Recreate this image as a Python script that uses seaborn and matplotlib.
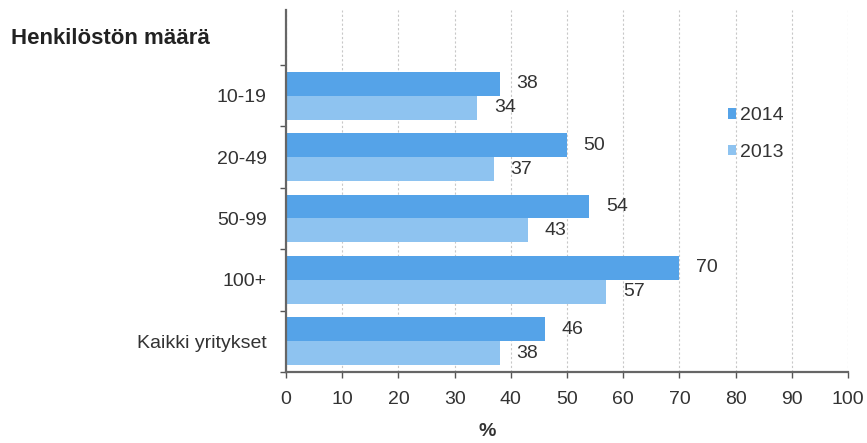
import matplotlib
matplotlib.use("Agg")
import matplotlib.pyplot as plt
import seaborn as sns
import pandas as pd
import numpy as np

categories = ["10-19", "20-49", "50-99", "100+", "Kaikki yritykset"]
years = ["2014", "2013"]
values_2014 = [38, 50, 54, 70, 46]
values_2013 = [34, 37, 43, 57, 38]
header = "Henkilöstön määrä"
xticks = list(range(0, 101, 10))

df = pd.DataFrame({
    "cat": categories * 2,
    "year": ["2014"] * len(categories) + ["2013"] * len(categories),
    "value": values_2014 + values_2013,
})

sns.set_theme(style="white")
plt.rcParams['font.family'] = ['Liberation Sans', 'DejaVu Sans']
FS = 14

fig = plt.figure(figsize=(8.67, 4.43), dpi=100)
ax = fig.add_axes([286 / 867, 1 - 372 / 443, 562 / 867, 362 / 443])

colors = {"2014": "#55a3e8", "2013": "#8ec3f0"}
sns.barplot(data=df, y="cat", x="value", hue="year", hue_order=years,
            order=categories, palette=colors, orient="h", width=0.78,
            saturation=1, ax=ax, linewidth=0, legend=True)

for cont in ax.containers:
    ax.bar_label(cont, padding=12, fontsize=FS, color="#333333")

ax.set_xlim(0, 100)
ax.set_ylim(4.5, -1.394)
ax.set_xticks(xticks)
ax.set_xticklabels([str(t) for t in xticks], fontsize=FS, color="#333333")
ax.set_yticks(range(len(categories)))
ax.set_yticklabels(categories, fontsize=FS, color="#333333")
ax.set_yticks(np.arange(-0.5, len(categories), 1.0), minor=True)
ax.tick_params(axis="y", which="major", length=0, pad=14)
ax.tick_params(axis="y", which="minor", length=4, width=1, color="#555555", left=True)
ax.tick_params(axis="x", which="major", length=4, width=1, color="#555555", bottom=True, pad=10)

ax.set_xlabel("%", fontsize=FS, color="#333333", fontweight="bold")
ax.xaxis.set_label_coords((487 - 286) / 562, (372 - 432) / 362)
ax.xaxis.label.set_va("center")
ax.set_ylabel("")

ax.xaxis.grid(True, linestyle=(0, (2, 2)), color="#c8c8c8", linewidth=0.8)
ax.set_axisbelow(True)
for s in ["top", "right"]:
    ax.spines[s].set_visible(False)
for s in ["left", "bottom"]:
    ax.spines[s].set_color("#666666")
    ax.spines[s].set_linewidth(1.6)

fig.text(11 / 867, 1 - 38 / 443, header, fontsize=16, fontweight="bold",
         color="#222222", va="center", ha="left")

leg = ax.legend(loc="center left", bbox_to_anchor=(0.786, (372 - 134) / 362), frameon=False,
                fontsize=FS, handlelength=0.45, handleheight=0.45,
                handletextpad=0.2, labelspacing=1.0, borderpad=0,
                borderaxespad=0)
for t in leg.get_texts():
    t.set_color("#333333")

fig.savefig("out.png", dpi=100)
